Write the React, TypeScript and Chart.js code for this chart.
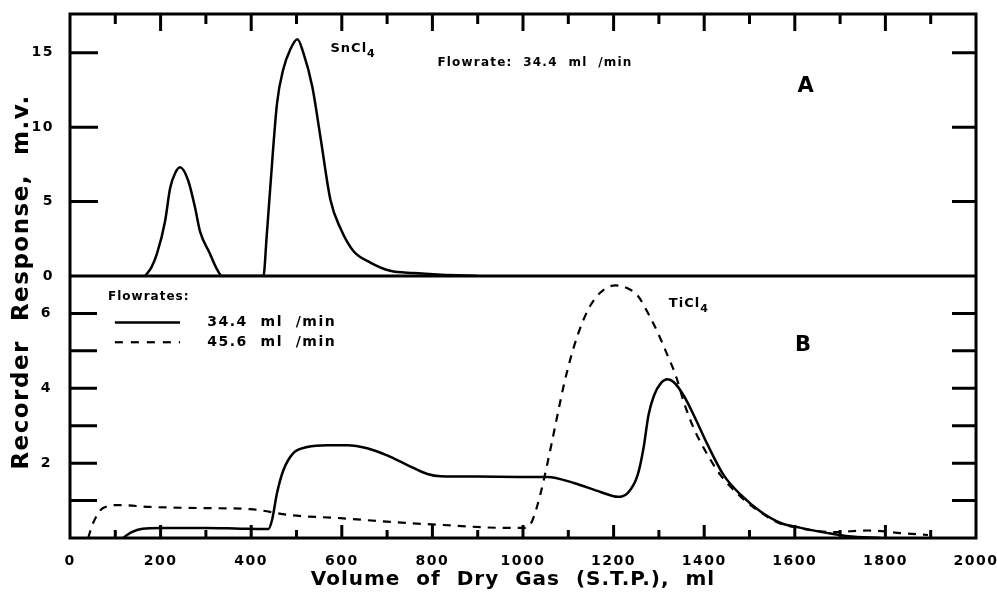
import React, { useEffect, useRef } from "react";
import { Chart, registerables } from "chart.js";

Chart.register(...registerables);

const FONT = '"DejaVu Sans", "Liberation Sans", sans-serif';

// Panel A: SnCl4, flowrate 34.4 ml/min (volume ml, response mV)
const aVolume = [166, 180, 192, 210, 221, 232, 243, 261, 276, 287, 309, 322, 336, 427, 434, 442, 457, 471, 486, 502, 515, 535, 553, 575, 597, 625, 663, 707, 760, 811, 870, 900];
const aResponse = [0, 0.6, 1.5, 3.7, 5.9, 6.9, 7.3, 6.4, 4.6, 3.0, 1.5, 0.6, 0, 0, 2.6, 5.9, 11.6, 13.9, 15.2, 15.9, 15.0, 12.7, 9.3, 5.1, 3.2, 1.7, 0.9, 0.35, 0.2, 0.1, 0.03, 0];

// Panel B: TiCl4, flowrate 34.4 ml/min (solid)
const bSolidVolume = [117, 135, 160, 200, 300, 376, 438, 446, 457, 471, 493, 524, 568, 612, 656, 700, 745, 789, 818, 900, 994, 1054, 1112, 1171, 1209, 1231, 1253, 1266, 1277, 1289, 1304, 1319, 1333, 1355, 1377, 1408, 1443, 1481, 1525, 1569, 1613, 1673, 1717, 1790];
const bSolidResponse = [0, 0.15, 0.25, 0.27, 0.27, 0.25, 0.24, 0.48, 1.2, 1.81, 2.27, 2.43, 2.48, 2.48, 2.4, 2.21, 1.95, 1.71, 1.65, 1.64, 1.63, 1.63, 1.47, 1.23, 1.1, 1.2, 1.68, 2.4, 3.28, 3.8, 4.13, 4.24, 4.16, 3.8, 3.28, 2.48, 1.68, 1.15, 0.7, 0.4, 0.27, 0.13, 0.05, 0];

// Panel B: TiCl4, flowrate 45.6 ml/min (dashed)
const bDashVolume = [40, 51, 73, 110, 177, 287, 398, 486, 597, 707, 818, 966, 1005, 1020, 1039, 1054, 1061, 1076, 1090, 1105, 1123, 1145, 1171, 1204, 1231, 1253, 1275, 1297, 1319, 1337, 1355, 1377, 1408, 1436, 1481, 1525, 1569, 1598, 1640, 1686, 1761, 1834, 1894];
const bDashResponse = [0, 0.4, 0.8, 0.88, 0.83, 0.8, 0.77, 0.61, 0.53, 0.43, 0.35, 0.27, 0.27, 0.45, 1.2, 2.0, 2.4, 3.28, 4.08, 4.8, 5.5, 6.13, 6.56, 6.75, 6.67, 6.48, 6.03, 5.5, 4.88, 4.35, 3.63, 2.93, 2.21, 1.68, 1.1, 0.68, 0.38, 0.3, 0.2, 0.16, 0.2, 0.13, 0.08];

const xMin = 0;
const xMax = 2000;
const xLabelStep = 200;
const xTickMarks = [100, 200, 300, 400, 500, 600, 700, 800, 900, 1000, 1100, 1200, 1300, 1400, 1500, 1600, 1700, 1800, 1900];
const aMax = 17.6;
const aTickMarks = [5, 10, 15];
const bMax = 7;
const bTickLabels = [2, 4, 6];
const bTickMarks = [1, 2, 3, 4, 5, 6];

const xTitle = "Volume  of  Dry  Gas  (S.T.P.),  ml";
const yTitle = "Recorder  Response,  m.v.";

function pts(xs: number[], ys: number[]) {
  return xs.map((x, i) => ({ x, y: ys[i] }));
}

function drawText(ctx: CanvasRenderingContext2D, s: string, x: number, y: number, size: number, align: CanvasTextAlign = "left", spacing = 1) {
  ctx.save();
  ctx.font = `bold ${size}px ${FONT}`;
  (ctx as any).letterSpacing = spacing + "px";
  ctx.textAlign = align;
  ctx.textBaseline = "middle";
  ctx.fillStyle = "#000";
  ctx.fillText(s, x, y);
  ctx.restore();
}

function drawChem(ctx: CanvasRenderingContext2D, base: string, sub: string, x: number, y: number, size: number) {
  ctx.save();
  ctx.font = `bold ${size}px ${FONT}`;
  (ctx as any).letterSpacing = "1px";
  ctx.textAlign = "left";
  ctx.textBaseline = "middle";
  ctx.fillStyle = "#000";
  ctx.fillText(base, x, y);
  const w = ctx.measureText(base).width;
  ctx.font = `bold ${Math.round(size * 0.85)}px ${FONT}`;
  ctx.fillText(sub, x + w, y + size * 0.45);
  ctx.restore();
}

const framePlugin = {
  id: "frame",
  beforeDraw(chart: any) {
    (chart.ctx as any).letterSpacing = "1.5px";
  },
  afterDatasetsDraw(chart: any) {
    const ctx: CanvasRenderingContext2D = chart.ctx;
    (ctx as any).letterSpacing = "0px";
    const { left, right, top, bottom } = chart.chartArea;
    const x = chart.scales.x;
    const yA = chart.scales.yA;
    const yB = chart.scales.yB;
    ctx.save();
    ctx.strokeStyle = "#000";
    ctx.lineWidth = 3;
    ctx.lineCap = "butt";
    ctx.strokeRect(left, top, right - left, bottom - top);
    const sep = yA.getPixelForValue(0);
    ctx.beginPath();
    ctx.moveTo(left, sep);
    ctx.lineTo(right, sep);
    ctx.stroke();

    ctx.beginPath();
    for (const v of xTickMarks) {
      const px = x.getPixelForValue(v);
      const major = v % 200 === 0;
      ctx.moveTo(px, top);
      ctx.lineTo(px, top + (major ? 17 : 10));
      ctx.moveTo(px, bottom);
      ctx.lineTo(px, bottom - (major ? 13 : 8));
    }
    for (const v of aTickMarks) {
      const py = yA.getPixelForValue(v);
      ctx.moveTo(left, py);
      ctx.lineTo(left + 28, py);
      ctx.moveTo(right, py);
      ctx.lineTo(right - 24, py);
    }
    for (const v of bTickMarks) {
      const py = yB.getPixelForValue(v);
      ctx.moveTo(left, py);
      ctx.lineTo(left + 27, py);
      ctx.moveTo(right, py);
      ctx.lineTo(right - 24, py);
    }
    ctx.stroke();

    // Panel annotations
    drawChem(ctx, "SnCl", "4", x.getPixelForValue(575), yA.getPixelForValue(15.3), 13);
    drawText(ctx, "Flowrate:  34.4  ml  /min", x.getPixelForValue(811), yA.getPixelForValue(14.3), 12, "left", 1.2);
    drawText(ctx, "A", x.getPixelForValue(1624), yA.getPixelForValue(12.7), 21, "center", 0);
    drawChem(ctx, "TiCl", "4", x.getPixelForValue(1322), yB.getPixelForValue(6.27), 13);
    drawText(ctx, "B", x.getPixelForValue(1618), yB.getPixelForValue(5.15), 21, "center", 0);

    // Legend
    drawText(ctx, "Flowrates:", x.getPixelForValue(84), yB.getPixelForValue(6.43), 12, "left", 1);
    ctx.lineWidth = 2.5;
    ctx.beginPath();
    ctx.moveTo(x.getPixelForValue(99), yB.getPixelForValue(5.76));
    ctx.lineTo(x.getPixelForValue(243), yB.getPixelForValue(5.76));
    ctx.stroke();
    ctx.setLineDash([8, 8]);
    ctx.lineWidth = 2.2;
    ctx.beginPath();
    ctx.moveTo(x.getPixelForValue(99), yB.getPixelForValue(5.23));
    ctx.lineTo(x.getPixelForValue(243), yB.getPixelForValue(5.23));
    ctx.stroke();
    ctx.setLineDash([]);
    drawText(ctx, "34.4  ml  /min", x.getPixelForValue(303), yB.getPixelForValue(5.76), 14, "left", 1.5);
    drawText(ctx, "45.6  ml  /min", x.getPixelForValue(303), yB.getPixelForValue(5.23), 14, "left", 1.5);

    // Axis titles
    drawText(ctx, xTitle, (left + right) / 2 - 10, 580, 20, "center", 1);
    ctx.save();
    ctx.translate(22, (top + bottom) / 2 + 6);
    ctx.rotate(-Math.PI / 2);
    drawText(ctx, yTitle, 0, 0, 23, "center", 1.5);
    ctx.restore();
    ctx.restore();
  },
};

const zeroPadY = (s: any) => {
  s.width = 70;
  s.paddingTop = 0;
  s.paddingBottom = 0;
};

export default function App() {
  const ref = useRef<HTMLCanvasElement | null>(null);
  useEffect(() => {
    document.body.style.margin = "0";
    const canvas = ref.current!;
    const tickFont = { family: FONT, size: 14, weight: "bold" as const };
    const chart = new Chart(canvas, {
      type: "line",
      data: {
        datasets: [
          {
            label: "SnCl4 34.4 ml/min",
            data: pts(aVolume, aResponse),
            yAxisID: "yA",
            borderColor: "#000",
            borderWidth: 2.5,
            pointRadius: 0,
            cubicInterpolationMode: "monotone",
            fill: false,
          },
          {
            label: "34.4 ml/min",
            data: pts(bSolidVolume, bSolidResponse),
            yAxisID: "yB",
            borderColor: "#000",
            borderWidth: 2.5,
            pointRadius: 0,
            cubicInterpolationMode: "monotone",
            fill: false,
          },
          {
            label: "45.6 ml/min",
            data: pts(bDashVolume, bDashResponse),
            yAxisID: "yB",
            borderColor: "#000",
            borderWidth: 2.2,
            borderDash: [8, 7],
            pointRadius: 0,
            cubicInterpolationMode: "monotone",
            fill: false,
          },
        ],
      },
      options: {
        animation: false,
        responsive: false,
        layout: { padding: { top: 14, right: 21, left: 0, bottom: 0 } },
        plugins: { legend: { display: false }, tooltip: { enabled: false } },
        scales: {
          x: {
            type: "linear",
            min: xMin,
            max: xMax,
            ticks: {
              stepSize: xLabelStep,
              font: tickFont,
              color: "#000",
              padding: 7,
              maxRotation: 0,
              autoSkip: false,
              callback: (v: any) => String(v),
            },
            grid: { display: false },
            border: { display: false },
            afterFit: (s: any) => {
              s.height = 57;
              s.paddingLeft = 0;
              s.paddingRight = 0;
            },
          },
          yB: {
            type: "linear",
            position: "left",
            stack: "v",
            stackWeight: 1,
            min: 0,
            max: bMax,
            ticks: {
              stepSize: 1,
              font: tickFont,
              color: "#000",
              padding: 10,
              callback: (v: any) => (bTickLabels.includes(Number(v)) ? String(v) : ""),
            },
            grid: { display: false },
            border: { display: false },
            afterFit: zeroPadY,
          },
          yA: {
            type: "linear",
            position: "left",
            stack: "v",
            stackWeight: 1,
            min: 0,
            max: aMax,
            ticks: {
              stepSize: 5,
              includeBounds: false,
              font: tickFont,
              color: "#000",
              padding: 8,
              callback: (v: any) => (Number(v) % 5 === 0 ? String(v) : ""),
            },
            grid: { display: false },
            border: { display: false },
            afterFit: zeroPadY,
          },
        },
      } as any,
      plugins: [framePlugin],
    });
    return () => chart.destroy();
  }, []);
  return (
    <div style={{ width: 997, height: 595, background: "#fff" }}>
      <canvas ref={ref} width={997} height={595} style={{ display: "block" }} />
    </div>
  );
}
